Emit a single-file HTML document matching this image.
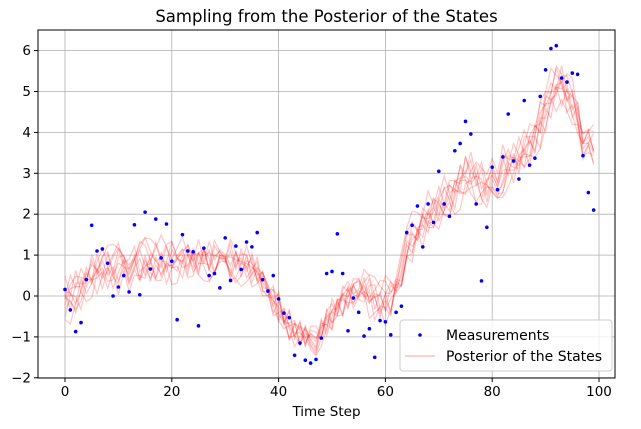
<!DOCTYPE html>
<html><head><meta charset="utf-8"><style>
body{margin:0;background:#fff;font-family:"Liberation Sans","DejaVu Sans",sans-serif}
</style></head><body>
<svg id="c" width="641" height="424" xmlns="http://www.w3.org/2000/svg" font-family="DejaVu Sans, Liberation Sans, sans-serif"></svg>
<script>
const steps = Array.from({length:100},(_, i)=>i);
const measurements = [0.16,-0.34,-0.87,-0.65,0.4,1.73,1.1,1.15,0.8,0,0.22,0.5,0.1,1.74,0.03,2.05,0.66,1.88,0.93,1.76,0.85,-0.58,1.5,1.1,1.08,-0.73,1.17,0.5,0.55,0.2,1.42,0.38,1.22,0.65,1.32,1.2,1.55,0.4,0.12,0.5,-0.07,-0.42,-0.53,-1.45,-1.15,-1.57,-1.64,-1.55,-1.03,0.55,0.6,1.52,0.55,-0.85,-0.05,-0.4,-0.98,-0.8,-1.5,-0.6,-0.63,-0.95,-0.4,-0.25,1.55,1.73,2.2,1.2,2.25,1.8,3.05,2.25,1.95,3.55,3.73,4.27,3.96,2.25,0.37,1.68,3.15,2.6,3.4,4.45,3.3,2.86,4.78,3.2,3.37,4.88,5.53,6.05,6.12,5.33,5.23,5.45,5.42,3.43,2.53,2.1];
const posteriorMean = [-0.1,0,0.1,0.2,0.35,0.5,0.6,0.65,0.7,0.65,0.7,0.75,0.7,0.8,0.8,0.85,0.8,0.85,0.8,0.8,0.8,0.75,0.8,0.75,0.7,0.7,0.75,0.7,0.75,0.8,0.8,0.8,0.85,0.85,0.9,0.85,0.8,0.6,0.4,0.2,0,-0.3,-0.5,-0.7,-0.85,-0.95,-1.05,-1.1,-1.0,-0.85,-0.7,-0.5,-0.35,-0.2,-0.1,-0.05,0,-0.05,-0.15,-0.2,-0.1,0,0.3,0.7,1.1,1.5,1.7,1.85,2.0,2.1,2.2,2.3,2.4,2.55,2.75,2.95,3.0,2.85,2.75,2.7,2.75,2.9,3.05,3.2,3.3,3.4,3.55,3.7,3.9,4.2,4.6,4.9,5.1,5.1,4.9,4.7,4.3,3.9,3.6,3.6];
const sampleShifts = [0.35,-0.3,0.4,-0.25,0.2,-0.4,0.3,-0.15,0.25,-0.35];
const xTicks = [0,20,40,60,80,100];
const yTicks = [-2,-1,0,1,2,3,4,5,6];

const L=38,R=615,T=30,B=378;
const sx=v=>65+(v)*5.34;
const sy=v=>296-v*40.9;
const svg=document.getElementById('c');
const NS='http://www.w3.org/2000/svg';
function mk(tag,attrs,parent){const e=document.createElementNS(NS,tag);for(const k in attrs)e.setAttribute(k,attrs[k]);(parent||svg).appendChild(e);return e;}

const grid=mk('g',{});


xTicks.forEach(t=>{mk('line',{x1:sx(t),x2:sx(t),y1:T,y2:B,stroke:'#b0b0b0','stroke-width':0.8},grid);});
yTicks.forEach(t=>{mk('line',{x1:L,x2:R,y1:sy(t),y2:sy(t),stroke:'#b0b0b0','stroke-width':0.8},grid);});

const post=mk('g',{});


sampleShifts.forEach((s,k)=>{
  const pts=steps.map(i=>{const j=Math.sin(i*(0.9+k*0.37)+k*1.7)*0.3+Math.sin(i*(0.13+k*0.02)+k*2.3)*s;return sx(i)+','+sy(posteriorMean[i]+j);}).join(' ');
  const pl=mk('polyline',{points:pts,fill:'none',stroke:'#ff0000','stroke-opacity':0.22,'stroke-width':1.2},post);
  
  
});

const meas=mk('g',{});


steps.forEach(i=>{
  const c=mk('circle',{cx:sx(i),cy:sy(measurements[i]),r:1.8,fill:'#0000ff'},meas);
  
  
});

const frame=mk('rect',{x:L,y:T,width:R-L,height:B-T,fill:'none',stroke:'#000','stroke-width':1});



xTicks.forEach(t=>{
  mk('line',{x1:sx(t),x2:sx(t),y1:B,y2:B+4,stroke:'#000'});
  const tx=mk('text',{x:sx(t),y:B+18,'text-anchor':'middle','font-size':13.5},null);tx.textContent=t;
  
  
});
yTicks.forEach(t=>{
  mk('line',{x1:L-4,x2:L,y1:sy(t),y2:sy(t),stroke:'#000'});
  const tx=mk('text',{x:L-7,y:sy(t)+4.5,'text-anchor':'end','font-size':13.5});tx.textContent=t<0?'\u2212'+(-t):t;
  
  
});

const title=mk('text',{x:(L+R)/2,y:22,'text-anchor':'middle','font-size':16.5});
title.textContent='Sampling from the Posterior of the States';


const xl=mk('text',{x:(L+R)/2,y:416,'text-anchor':'middle','font-size':13.5});
xl.textContent='Time Step';



const lg=mk('g',{});


mk('rect',{x:400,y:320,width:212,height:51,rx:3,fill:'#fff','fill-opacity':0.8,stroke:'#ccc'},lg);
mk('circle',{cx:420,cy:335,r:1.8,fill:'#0000ff'},lg);
const t1=mk('text',{x:446,y:340,'font-size':14},lg);t1.textContent='Measurements';


mk('line',{x1:405,x2:435,y1:356,y2:356,stroke:'#ff0000','stroke-opacity':0.3,'stroke-width':1.2},lg);
const t2=mk('text',{x:446,y:361,'font-size':14},lg);t2.textContent='Posterior of the States';


</script>
</body></html>
